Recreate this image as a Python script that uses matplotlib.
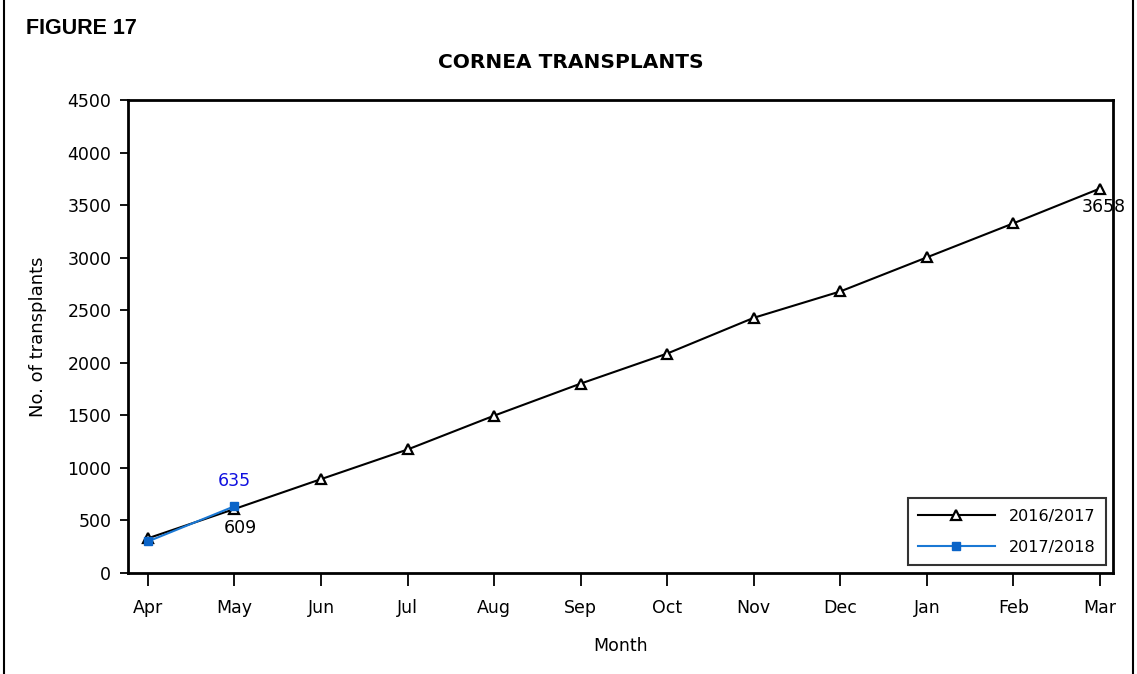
import matplotlib
matplotlib.use("Agg")
import matplotlib.pyplot as plt
from matplotlib.lines import Line2D

plt.rcParams['font.family'] = ['DejaVu Sans']

months = ['Apr', 'May', 'Jun', 'Jul', 'Aug', 'Sep', 'Oct', 'Nov', 'Dec', 'Jan', 'Feb', 'Mar']
series_1617 = [330, 609, 893, 1175, 1497, 1802, 2088, 2428, 2679, 3003, 3327, 3658]
series_1718 = [300, 635]
yticks = [0, 500, 1000, 1500, 2000, 2500, 3000, 3500, 4000, 4500]

W, H = 1137, 674
fig = plt.figure(figsize=(W / 100, H / 100), dpi=100)
ax = fig.add_axes([128 / W, 1 - 573 / H, (1113 - 128) / W, (573 - 100) / H])

x = list(range(len(months)))
ax.plot(x, series_1617, color='black', lw=1.5, marker='^', markersize=7,
        markerfacecolor='white', markeredgecolor='black', markeredgewidth=1.6,
        label='2016/2017', zorder=3)
ax.plot(x[:len(series_1718)], series_1718, color='#1a78d4', lw=1.5, marker='s',
        markersize=5.5, markerfacecolor='#0a64c8', markeredgecolor='#0a64c8',
        label='2017/2018', zorder=4)

ax.set_xlim(-0.23, 11.15)
ax.set_ylim(0, 4500)
ax.set_xticks(x)
ax.set_xticklabels(months)
ax.set_yticks(yticks)
ax.tick_params(axis='both', labelsize=12.5, width=1.3, color='black')
ax.tick_params(axis='x', length=9, pad=10)
ax.tick_params(axis='y', length=6, pad=6)
for s in ax.spines.values():
    s.set_linewidth(2)

ax.set_xlabel('Month', fontsize=12.5, labelpad=14)
ax.set_ylabel('No. of transplants', fontsize=13, labelpad=15)

# data labels
ax.annotate(str(series_1718[1]), (1, series_1718[1]), xytext=(0, 12),
            textcoords='offset points', ha='center', va='bottom',
            color='#1010e0', fontsize=12.5)
ax.annotate(str(series_1617[1]), (1, series_1617[1]), xytext=(4, -7),
            textcoords='offset points', ha='center', va='top',
            color='black', fontsize=12.5)
ax.annotate(str(series_1617[-1]), (11, series_1617[-1]), xytext=(3, -7),
            textcoords='offset points', ha='center', va='top',
            color='black', fontsize=12.5)

leg = ax.legend(loc='lower right', bbox_to_anchor=(0.993, 0.017), borderaxespad=0,
                fontsize=11.5, frameon=True, fancybox=False, edgecolor='black',
                handlelength=4.8, borderpad=0.65, labelspacing=1.0,
                handletextpad=0.9)
leg.get_frame().set_linewidth(1.5)

fig.text(571 / W, 1 - 62 / H, 'CORNEA TRANSPLANTS', ha='center', va='center',
         fontsize=14.5, fontweight='bold')
fig.text(26 / W, 1 - 28 / H, 'FIGURE 17', ha='left', va='center',
         fontsize=15.5, fontweight='bold',
         family=['Liberation Sans Narrow', 'Liberation Sans', 'DejaVu Sans'])

# figure border lines
fig.add_artist(Line2D([4 / W, 4 / W], [0, 1], transform=fig.transFigure,
                      color='black', lw=1.5))
fig.add_artist(Line2D([1133 / W, 1133 / W], [0, 1], transform=fig.transFigure,
                      color='black', lw=1.5))

fig.savefig('out.png', dpi=100, facecolor='white')
